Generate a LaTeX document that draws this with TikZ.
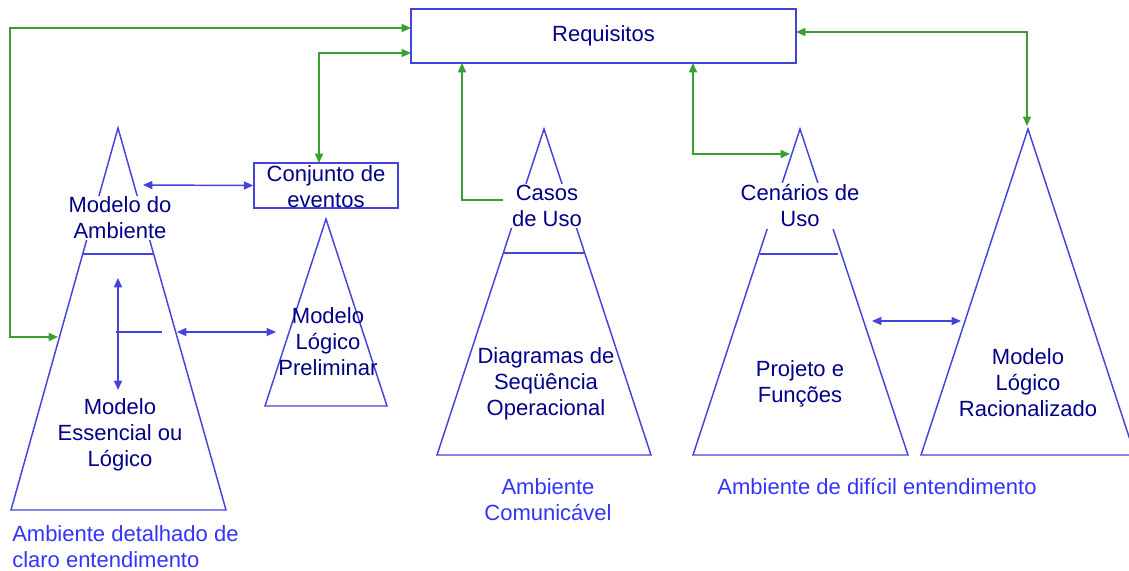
\documentclass[tikz,border=0pt]{standalone}
\usepackage{fontspec}
\setmainfont{Liberation Sans}
\usepackage{xcolor}
\definecolor{shapeblue}{HTML}{4444DD}
\definecolor{textnavy}{HTML}{000088}
\definecolor{labelblue}{HTML}{3333FF}
\definecolor{linkgreen}{HTML}{3A9E32}
\usetikzlibrary{arrows.meta, positioning}

\begin{document}
\begin{tikzpicture}[x=0.75pt, y=-0.75pt,
    shapeline/.style={draw=shapeblue, line width=1.1pt},
    txt/.style={text=textnavy, align=center, font=\fontsize{16.5}{19.5}\selectfont, inner sep=1pt},
    cut/.style={txt, fill=white},
    envlabel/.style={text=labelblue, font=\fontsize{16.5}{19.5}\selectfont, inner sep=0pt},
    greenlink/.style={draw=linkgreen, line width=1.1pt, {Triangle[length=7pt,width=6pt]}-{Triangle[length=7pt,width=6pt]}},
    bluelink/.style={draw=shapeblue, line width=1.1pt, {Triangle[length=7pt,width=6pt]}-{Triangle[length=7pt,width=6pt]}}]
  \useasboundingbox (0,0) rectangle (1129,571);
  \clip (0,0) rectangle (1129,571);

  % requisitos
  \node[shapeline, minimum width=288.75pt, minimum height=40.5pt, txt] (req) at (603.5,36) {Requisitos};

  % modelo do ambiente / essencial
  \draw[shapeline] (118,128) -- (226,510) -- (11,510) -- cycle;
  \draw[shapeline] (83,254) -- (154,254);
  \node[cut] (amb) at (120,218) {Modelo do\\Ambiente};
  \node[txt] (ess) at (120,435) {Modelo\\Essencial ou\\Lógico};

  % conjunto de eventos
  \node[shapeline, minimum width=108pt, minimum height=33.75pt] (conj) at (326,185.5) {};
  \node[txt] (conjtxt) at (326,187) {Conjunto de\\eventos};

  % modelo logico preliminar
  \draw[shapeline] (326,219) -- (387,406) -- (265,406) -- cycle;
  \node[txt] (prel) at (328,342) {Modelo\\Lógico\\Preliminar};

  % casos de uso / diagramas
  \draw[shapeline] (544,129) -- (651,455) -- (437,455) -- cycle;
  \draw[shapeline] (503,253) -- (585,253);
  \node[cut] (casos) at (547,206) {Casos\\de Uso};
  \node[txt] (diag) at (546,384) {Diagramas de\\Seqüência\\Operacional};

  % cenarios de uso / projeto
  \draw[shapeline] (800,129) -- (908,455) -- (693,455) -- cycle;
  \draw[shapeline] (760,254) -- (838,254);
  \node[cut] (cen) at (800,206) {Cenários de\\Uso};
  \node[txt] (proj) at (800,384) {Projeto e\\Funções};

  % modelo logico racionalizado
  \draw[shapeline] (1028,129) -- (1135,455) -- (921,455) -- cycle;
  \node[txt] (rac) at (1028,383) {Modelo\\Lógico\\Racionalizado};

  % ambientes
  \node[envlabel, anchor=west, align=left] (envdet) at (12,547) {Ambiente detalhado de\\claro entendimento};
  \node[envlabel, align=center] (envcom) at (548,500) {Ambiente\\Comunicável};
  \node[envlabel] (envdif) at (877,487) {Ambiente de difícil entendimento};

  % pontos de ligacao
  \coordinate (reqA) at (411,28);
  \coordinate (reqB) at (411,53);
  \coordinate (reqC) at (462,63);
  \coordinate (reqD) at (693,63);
  \coordinate (reqE) at (796,32);
  \coordinate (loopL) at (10,28);
  \coordinate (ambL) at (58,337);
  \coordinate (conjT) at (319,163);
  \coordinate (casosL) at (503,200);
  \coordinate (cenA) at (790,154);
  \coordinate (racT) at (1027,126);
  \coordinate (ambR) at (143,185);
  \coordinate (essT) at (118,278);
  \coordinate (essB) at (118,390);
  \coordinate (essM) at (116,332);
  \coordinate (essN) at (162,332);
  \coordinate (essR) at (177,332);
  \coordinate (prelL) at (276,332);
  \coordinate (projR) at (872,321);
  \coordinate (racL) at (961,321);

  % ligacoes verdes
  \draw[greenlink] (reqA) -- (loopL) |- (ambL);
  \draw[greenlink] (reqB) -| (conjT);
  \draw[greenlink, {Triangle[length=7pt,width=6pt]}-] (reqC) |- (casosL);
  \draw[greenlink] (reqD) |- (cenA);
  \draw[greenlink] (reqE) -| (racT);

  % ligacoes azuis
  \draw[bluelink] (ambR) -- (conj.west);
  \draw[bluelink] (essT) -- (essB);
  \draw[shapeline] (essM) -- (essN);
  \draw[bluelink] (essR) -- (prelL);
  \draw[bluelink] (projR) -- (racL);
\end{tikzpicture}
\end{document}
